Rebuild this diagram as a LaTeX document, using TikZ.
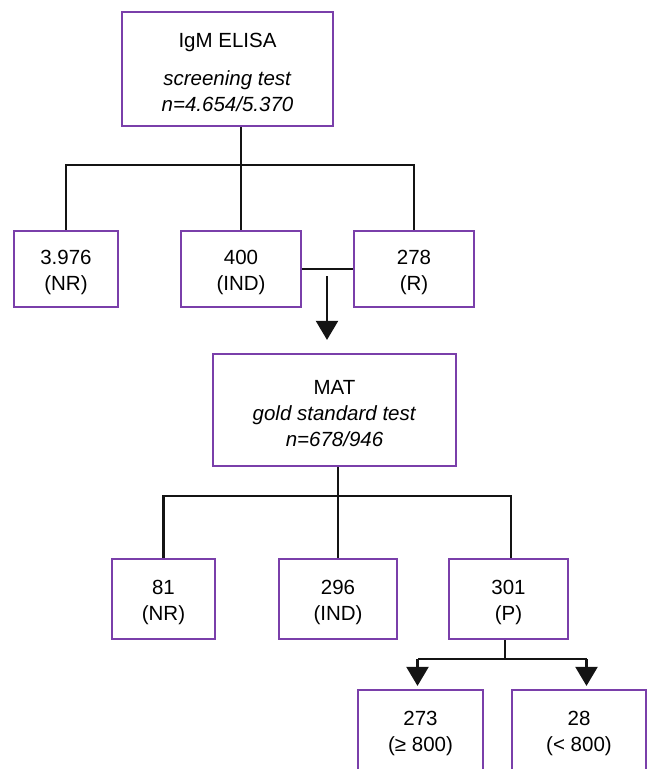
\documentclass[tikz,border=0pt]{standalone}
\usepackage{fontspec}
\setmainfont{Liberation Sans}
\usetikzlibrary{arrows.meta}
\definecolor{boxpurple}{RGB}{122,63,170}
\newcommand\topstrut{\rule{0pt}{21pt}}
\begin{document}
\begin{tikzpicture}[x=1pt,y=-1pt,
  box/.style={draw=boxpurple,line width=2.2pt,fill=white,inner sep=0pt,align=center,
    font=\fontsize{20.5}{26}\selectfont},
  conn/.style={line width=2.2pt,black!92},
  arr/.style={conn,-{Triangle[width=22pt,length=19pt]}}]
\useasboundingbox (0,0) rectangle (647,769);
\clip (0,0) rectangle (647,769);

% level 1
\node[box,minimum width=211pt,minimum height=114pt] (top) at (227.5,69)
  {\topstrut IgM ELISA\\[12pt]\textit{screening test}\\\textit{n=4.654/5.370}};

% level 2
\node[box,minimum width=104pt,minimum height=76pt] (nr1) at (66,269) {\topstrut 3.976\\(NR)};
\node[box,minimum width=120pt,minimum height=76pt] (ind1) at (241,269) {\topstrut 400\\(IND)};
\node[box,minimum width=120pt,minimum height=76pt] (r1) at (414,269) {\topstrut 278\\(R)};

% MAT
\node[box,minimum width=243pt,minimum height=112pt] (mat) at (334.5,410)
  {\topstrut MAT\\\textit{gold standard test}\\\textit{n=678/946}};

% level 4
\node[box,minimum width=103pt,minimum height=80pt] (nr2) at (163.5,599) {\topstrut 81\\(NR)};
\node[box,minimum width=118pt,minimum height=80pt] (ind2) at (338,599) {\topstrut 296\\(IND)};
\node[box,minimum width=119pt,minimum height=80pt] (p2) at (508.5,599) {\topstrut 301\\(P)};

% level 5
\node[box,minimum width=125pt,minimum height=80pt] (hi) at (420.5,730) {\topstrut 273\\(≥ 800)};
\node[box,minimum width=134pt,minimum height=80pt] (lo) at (579,730) {\topstrut 28\\(< 800)};

% connectors level 1 -> 2
\draw[conn] (ind1.north) -- (ind1.north |- top.south);
\draw[conn] (nr1.north) -- ++(0,-65) -| (r1.north);

% IND + R -> MAT
\draw[conn] (ind1.east) -- (r1.west);
\coordinate (a1) at (327,276);
\draw[arr,shorten >=13pt] (a1) -- (a1 |- mat.north);

% MAT -> level 4
\draw[conn] (ind2.north) -- (ind2.north |- mat.south);
\draw[conn] (nr2.north) -- ++(0,-62) -| ([xshift=2.5pt]p2.north);

% P -> level 5
\draw[conn] ([xshift=-3.5pt]p2.south) -- ++(0,19) coordinate (sp);
\draw[conn] (sp) -- ++(-87.5,0) coordinate (spl);
\draw[conn] (sp) -- ++(81.5,0) coordinate (spr);
\draw[arr,shorten >=3pt] (spl) -- (spl |- hi.north);
\draw[arr,shorten >=3pt] (spr) -- (spr |- lo.north);
\end{tikzpicture}
\end{document}
